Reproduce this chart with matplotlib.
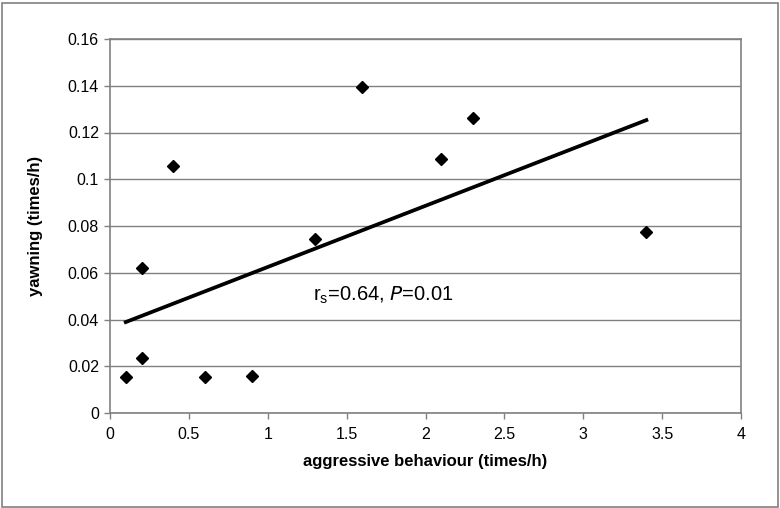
import numpy as np
import matplotlib
matplotlib.use("Agg")
import matplotlib.pyplot as plt
from matplotlib.patches import Rectangle
from matplotlib.ticker import FuncFormatter

plt.rcParams['font.family'] = ['Liberation Sans', 'DejaVu Sans']

# data
aggression = [0.1, 0.2, 0.2, 0.4, 0.6, 0.9, 1.3, 1.6, 2.1, 2.3, 3.4]
yawning = [0.0155, 0.0235, 0.062, 0.1057, 0.0155, 0.0158, 0.0745, 0.1395, 0.1087, 0.1262, 0.0774]

# trend line ends
trend_x = [0.1, 3.4]
trend_y = [0.0389, 0.1253]

x_ticks = [0, 0.5, 1, 1.5, 2, 2.5, 3, 3.5, 4]
y_ticks = [0, 0.02, 0.04, 0.06, 0.08, 0.1, 0.12, 0.14, 0.16]

grey = '#808080'

fig = plt.figure(figsize=(7.8, 5.08), dpi=100)
ax = fig.add_axes([110 / 780, 95 / 508, 631 / 780, 374 / 508])

# outer frame of the chart
fig.patches.append(Rectangle((1.5 / 780, 1.5 / 508), 776 / 780, 504 / 508,
                             transform=fig.transFigure, fill=False,
                             edgecolor=grey, linewidth=1.2))

ax.set_xlim(0, 4)
ax.set_ylim(0, 0.16)
ax.set_xticks(x_ticks)
ax.set_yticks(y_ticks)
ax.xaxis.set_major_formatter(FuncFormatter(lambda v, p: '%g' % v))
ax.yaxis.set_major_formatter(FuncFormatter(lambda v, p: '%g' % v))
ax.grid(axis='y', color=grey, linewidth=1)
ax.set_axisbelow(True)

for s in ax.spines.values():
    s.set_color(grey)
    s.set_linewidth(1.2)

ax.tick_params(axis='both', direction='out', length=4, color=grey,
               labelsize=11.5, labelcolor='black', width=1)
ax.tick_params(axis='x', pad=6)
ax.tick_params(axis='y', pad=4)

ax.plot(aggression, yawning, linestyle='none', marker='D', markersize=6,
        color='black', zorder=3)
ax.plot(trend_x, trend_y, color='black', linewidth=2.7, zorder=3)

ax.text(1.29, 0.0505, r'r$_\mathregular{s}$=0.64, $\mathit{P}$=0.01', fontsize=14.5,
        ha='left', va='center')

ax.set_xlabel('aggressive behaviour (times/h)', fontsize=12, fontweight='bold',
              labelpad=9)
ax.set_ylabel('yawning (times/h)', fontsize=12, fontweight='bold', labelpad=18)

fig.savefig('out.png', dpi=100)
